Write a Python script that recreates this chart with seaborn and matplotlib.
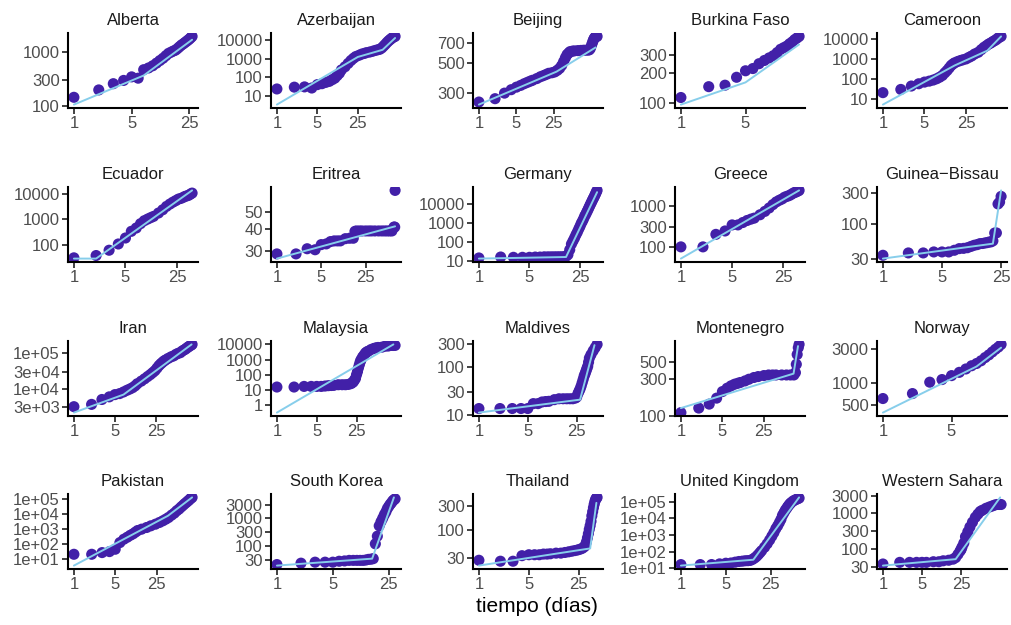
import numpy as np
import matplotlib
matplotlib.use("Agg")
import matplotlib.pyplot as plt
import seaborn as sns
from matplotlib.ticker import FixedLocator, NullLocator

# casos acumulados por día y la recta segmentada ajustada
alberta_day = list(range(1, 28))
alberta_cases = [146, 200, 261, 300, 349, 330, 474, 510, 560, 627, 700, 772, 860, 950,
                 1000, 1050, 1090, 1170, 1260, 1350, 1420, 1500, 1580, 1660, 1750, 1850, 1960]
alberta_fit_day = [1, 7, 27]
alberta_fit = [107, 370, 1700]

azerbaijan_day = [1, 2, 3, 4, 5, 6, 7, 8, 9, 10, 11, 12, 13, 15, 17, 19, 21, 23, 26, 29, 32, 35,
                  40, 45, 50, 55, 60, 65, 70, 75, 80, 85, 90, 95, 100, 105, 110]
azerbaijan_cases = [24, 30, 31, 27, 41, 46, 54, 61, 75, 91, 125, 167, 250, 370, 560, 800, 1050, 1300,
                    1510, 1750, 1900, 2100, 2270, 2500, 2770, 3000, 3200, 3800, 4800, 6000, 7500,
                    9000, 10500, 12000, 13500, 15000, 15600]
azerbaijan_fit_day = [1, 25, 67, 110]
azerbaijan_fit = [3.5, 1240, 3000, 12800]

beijing_day = [1, 2, 3, 4, 5, 6, 7, 8, 9, 10, 12, 14, 16, 18, 20, 23, 26, 29, 32, 35, 38, 41, 44, 47,
               50, 55, 60, 70, 80, 90, 100, 110, 115, 120, 125, 130, 135, 140, 145, 150, 155, 160]
beijing_cases = [256, 271, 298, 316, 330, 340, 350, 358, 365, 371, 382, 394, 402, 410, 418, 422, 428,
                 440, 455, 478, 510, 545, 575, 590, 605, 610, 613, 616, 618, 620, 620, 622, 625, 640,
                 670, 700, 730, 755, 770, 780, 785, 785]
beijing_fit_day = [1, 28, 150]
beijing_fit = [245, 430, 650]

burkina_day = list(range(1, 20))
burkina_cases = [113, 145, 150, 180, 209, 220, 246, 265, 281, 296, 318, 343, 356, 369, 389, 406, 428,
                 444, 461]
burkina_fit_day = [1, 5, 19]
burkina_fit = [96, 160, 383]

cameroon_day = [1, 2, 3, 4, 5, 6, 7, 8, 9, 10, 11, 12, 13, 14, 15, 16, 18, 20, 22, 25, 28, 31, 35,
                40, 45, 50, 55, 60, 65, 70, 75, 80, 85, 90, 97]
cameroon_cases = [20, 29, 43, 56, 68, 76, 86, 100, 120, 147, 200, 261, 350, 464, 550, 631, 736, 826,
                  900, 1000, 1200, 1400, 1780, 2150, 2930, 3830, 4640, 5620, 6310, 7360, 8250, 9260,
                  10800, 12100, 13600]
cameroon_fit_day = [1, 16, 57, 97]
cameroon_fit = [5, 464, 2610, 13600]

ecuador_day = [1, 2, 3, 4, 5, 6, 7, 8, 9, 10, 11, 12, 14, 16, 18, 20, 22, 24, 26, 28, 30, 32, 34,
               36, 38, 40]
ecuador_cases = [30, 37, 60, 106, 183, 336, 455, 676, 886, 1030, 1170, 1310, 1780, 2400, 3260, 4030,
                 4800, 5500, 6310, 6700, 7300, 8090, 8500, 9000, 10000, 10960]
ecuador_fit_day = [1, 2, 40]
ecuador_fit = [28, 28, 14000]

eritrea_day = [1, 2, 3, 4, 5, 6, 7, 8, 9, 10, 12, 14, 16, 17, 18, 20, 22, 25, 28, 31, 35, 40, 45,
               50, 55, 60, 65, 70, 72, 73]
eritrea_cases = [29, 29, 31, 30.6, 32.7, 33, 34, 34.3, 34.3, 34.3, 35.3, 35.5, 35.5, 38.8, 39, 39, 39,
                 39, 39, 39, 39, 39, 39, 39, 39, 39, 39, 41, 41, 65.8]
eritrea_fit_day = [1, 73]
eritrea_fit = [27.3, 41.4]

germany_day = list(range(1, 44))
germany_cases = [14.8, 16.6, 16, 16, 16, 16.5, 16.5, 17, 17, 17, 17, 17, 17, 17, 17, 18, 22, 40, 80,
                 118, 170, 250, 350, 500, 700, 1000, 1300, 1740, 2400, 3000, 3930, 5000, 6500, 8300,
                 10500, 13000, 16200, 20000, 24000, 30000, 36000, 45000, 54000]
germany_fit_day = [1, 16, 43]
germany_fit = [13.7, 16.6, 43600]

greece_day = [1, 2, 3, 4, 5, 6, 7, 8, 9, 10, 12, 14, 16, 18, 20, 22, 24, 26, 28, 30, 32, 34, 36,
              38, 40, 41]
greece_cases = [100, 100, 201, 243, 341, 341, 390, 436, 470, 498, 601, 726, 877, 1060, 1230, 1350,
                1450, 1600, 1680, 1750, 1870, 2000, 2100, 2170, 2300, 2340]
greece_fit_day = [1, 41]
greece_fit = [52, 2340]

guinea_day = list(range(1, 26))
guinea_cases = [33.7, 36.6, 36.6, 37.9, 37.9, 37.9, 40.2, 42.6, 43, 44, 46, 47.9, 49, 50.7, 51, 51.9,
                52.5, 53.7, 54, 56, 73.8, 74, 205, 219, 267]
guinea_fit_day = [1, 20, 25]
guinea_fit = [30, 50.7, 330]

iran_day = [1, 2, 3, 4, 5, 6, 7, 8, 9, 10, 11, 12, 14, 16, 18, 20, 22, 24, 26, 28, 30, 32, 34, 36,
            40, 45, 50, 55, 60, 65, 70, 75, 80, 85, 90, 95, 100, 103]
iran_cases = [3100, 3600, 4950, 5870, 6800, 7260, 8070, 9000, 9800, 10700, 12000, 13800, 16300, 19000,
              22000, 25000, 28500, 32300, 38000, 44500, 50000, 55000, 60000, 64000, 71200, 79000,
              84400, 93800, 100000, 104000, 116000, 124000, 132000, 144000, 153000, 163000, 172000,
              178000]
iran_fit_day = [1, 7, 101]
iran_fit = [2110, 6800, 178000]

malaysia_day = [1, 2, 3, 4, 5, 6, 7, 8, 9, 10, 12, 14, 16, 18, 20, 21, 22, 23, 24, 25, 26, 27, 28,
                29, 30, 32, 34, 36, 38, 40, 45, 50, 55, 60, 70, 80, 90, 100, 110, 119]
malaysia_cases = [15.5, 15.5, 17, 17, 17, 17, 18, 19, 19.5, 20, 22, 22, 22, 23, 26, 30, 34, 45, 57,
                  100, 160, 280, 450, 700, 980, 1500, 2000, 2750, 3200, 3550, 4600, 5400, 5960, 6300,
                  6600, 7700, 7800, 8500, 8500, 8600]
malaysia_fit_day = [1, 111]
malaysia_fit = [0.32, 10000]

maldives_day = [1, 2, 3, 4, 5, 6, 7, 8, 9, 10, 12, 14, 16, 18, 20, 22, 24, 25, 26, 27, 28, 29, 30,
                31, 32, 33, 34, 35, 36, 37, 38, 40, 43, 46, 49]
maldives_cases = [13.6, 13.6, 13.6, 13.6, 13.6, 17.2, 17.2, 18.6, 19, 19.2, 20.8, 21.7, 21.7, 21.7,
                  21.7, 21.7, 22.5, 23.5, 27.5, 31, 34.8, 40, 47, 55, 64.6, 72, 81.5, 92, 103, 125,
                  152, 178, 214, 250, 292]
maldives_fit_day = [1, 28, 45]
maldives_fit = [11.2, 20.8, 282]

montenegro_day = [1, 2, 3, 4, 5, 6, 7, 8, 9, 10, 12, 14, 17, 20, 25, 30, 35, 40, 50, 60, 70, 80,
                  85, 88, 91, 95, 98]
montenegro_cases = [110, 126, 142, 170, 207, 229, 246, 258, 265, 272, 285, 300, 316, 325, 335, 341,
                    341, 341, 341, 341, 341, 341, 366, 470, 632, 775, 855]
montenegro_fit_day = [1, 79, 94]
montenegro_fit = [126, 355, 813]

norway_day = list(range(1, 17))
norway_cases = [611, 716, 1030, 1120, 1270, 1410, 1570, 1740, 1870, 2040, 2260, 2460, 2700, 2940,
                3160, 3440]
norway_fit_day = [1, 9, 16]
norway_fit = [390, 1700, 3100]

pakistan_day = [1, 2, 3, 4, 5, 6, 7, 8, 9, 10, 11, 12, 14, 17, 20, 24, 28, 32, 36, 40, 45, 50, 55,
                60, 65, 70, 75, 80, 85, 90, 95, 100]
pakistan_cases = [20.5, 20.5, 26.6, 31, 44.5, 124, 208, 283, 380, 474, 620, 794, 977, 1260, 1630,
                  2100, 2730, 3530, 4570, 5900, 8460, 11500, 16500, 21400, 29100, 37600, 48600,
                  59800, 73500, 90200, 111000, 129000]
pakistan_fit_day = [1, 39, 100]
pakistan_fit = [3.6, 7640, 129000]

korea_day = list(range(1, 31))
korea_cases = [20.5, 23, 25, 25, 25, 27, 27.7, 29, 29, 29, 29, 29, 30, 31.6, 32, 33.5, 115, 218, 517,
               728, 970, 1300, 1630, 2170, 2600, 3080, 3500, 4100, 4500, 4870]
korea_fit_day = [1, 15.5, 29]
korea_fit = [18.8, 33.5, 5500]

thailand_day = [1, 2, 3, 4, 5, 6, 7, 8, 9, 10, 12, 14, 16, 18, 20, 22, 24, 26, 28, 30, 31, 32, 33,
                34, 35, 36, 37, 38, 39, 40, 41, 42, 43, 44, 45]
thailand_cases = [26.6, 25.5, 25.5, 32.6, 34, 34, 34, 35, 35, 35.5, 36.5, 36.5, 37.6, 38.7, 39.8,
                  40.9, 42, 43.4, 45.3, 48.7, 53, 60.5, 72, 86.6, 105, 124, 150, 191, 230, 274, 320,
                  365, 400, 420, 433]
thailand_fit_day = [1, 36, 44]
thailand_fit = [21, 45, 340]

uk_day = [1, 2, 3, 4, 5, 6, 7, 8, 9, 10, 11, 12, 13, 14, 15, 16, 17, 18, 20, 22, 24, 26, 28, 30,
          32, 34, 36, 38, 40, 42, 44, 46, 48, 50, 52, 56, 60, 65, 69]
uk_cases = [16.9, 16.9, 17, 18.6, 20.4, 21, 23.6, 25.9, 27, 28.6, 29, 30, 34.6, 41.8, 52, 67.4, 88,
            114, 184, 300, 500, 845, 1400, 2400, 3550, 5500, 8500, 14900, 21000, 30000, 38500,
            50000, 62300, 75000, 87000, 110000, 126000, 146000, 161000]
uk_fit_day = [1, 13.4, 69]
uk_fit = [14.7, 33, 178000]

sahara_day = [1, 2, 3, 4, 5, 6, 8, 10, 12, 15, 18, 20, 22, 24, 25, 26, 28, 30, 33, 36, 40, 45, 50,
              55, 60, 70, 80, 90, 100, 110, 120, 130]
sahara_cases = [36.9, 41, 41, 41, 41, 41, 42.7, 42.7, 45.4, 47, 50.4, 55.9, 68.7, 85, 93.8, 110, 142,
                215, 294, 401, 547, 748, 920, 1090, 1180, 1340, 1450, 1550, 1650, 1710, 1710, 1710]
sahara_fit_day = [1, 20, 125]
sahara_fit = [33.3, 50.4, 2700]

titles = ["Alberta", "Azerbaijan", "Beijing", "Burkina Faso", "Cameroon",
          "Ecuador", "Eritrea", "Germany", "Greece", "Guinea\u2212Bissau",
          "Iran", "Malaysia", "Maldives", "Montenegro", "Norway",
          "Pakistan", "South Korea", "Thailand", "United Kingdom", "Western Sahara"]

y_breaks = [[100, 300, 1000], [10, 100, 1000, 10000], [300, 500, 700], [100, 200, 300],
            [10, 100, 1000, 10000],
            [100, 1000, 10000], [30, 40, 50], [10, 100, 1000, 10000], [100, 300, 1000],
            [30, 100, 300],
            [3000, 10000, 30000, 100000], [1, 10, 100, 1000, 10000], [10, 30, 100, 300],
            [100, 300, 500], [500, 1000, 3000],
            [10, 100, 1000, 10000, 100000], [30, 100, 300, 1000, 3000], [30, 100, 300],
            [10, 100, 1000, 10000, 100000], [30, 100, 300, 1000, 3000]]
sci_panels = ["Iran", "Pakistan", "United Kingdom"]
x_breaks = [1, 5, 25]
x_breaks_short = [1, 5]

series = [
    (alberta_day, alberta_cases, alberta_fit_day, alberta_fit),
    (azerbaijan_day, azerbaijan_cases, azerbaijan_fit_day, azerbaijan_fit),
    (beijing_day, beijing_cases, beijing_fit_day, beijing_fit),
    (burkina_day, burkina_cases, burkina_fit_day, burkina_fit),
    (cameroon_day, cameroon_cases, cameroon_fit_day, cameroon_fit),
    (ecuador_day, ecuador_cases, ecuador_fit_day, ecuador_fit),
    (eritrea_day, eritrea_cases, eritrea_fit_day, eritrea_fit),
    (germany_day, germany_cases, germany_fit_day, germany_fit),
    (greece_day, greece_cases, greece_fit_day, greece_fit),
    (guinea_day, guinea_cases, guinea_fit_day, guinea_fit),
    (iran_day, iran_cases, iran_fit_day, iran_fit),
    (malaysia_day, malaysia_cases, malaysia_fit_day, malaysia_fit),
    (maldives_day, maldives_cases, maldives_fit_day, maldives_fit),
    (montenegro_day, montenegro_cases, montenegro_fit_day, montenegro_fit),
    (norway_day, norway_cases, norway_fit_day, norway_fit),
    (pakistan_day, pakistan_cases, pakistan_fit_day, pakistan_fit),
    (korea_day, korea_cases, korea_fit_day, korea_fit),
    (thailand_day, thailand_cases, thailand_fit_day, thailand_fit),
    (uk_day, uk_cases, uk_fit_day, uk_fit),
    (sahara_day, sahara_cases, sahara_fit_day, sahara_fit),
]

sns.set_style("ticks")
plt.rcParams["font.family"] = ["Liberation Sans", "DejaVu Sans"]

POINT = "#4220A8"
LINE = "#87CEEB"
W, H = 1011, 625
col_left = [68, 271, 473, 675, 877]
row_top = [33, 187, 341, 494]
pw, ph = 130, 75

fig = plt.figure(figsize=(W / 100, H / 100), dpi=100)


def padded(lo, hi):
    # ggplot-style 5% expansion in log space
    a, b = np.log10(lo), np.log10(hi)
    e = (b - a) * 0.05
    return 10 ** (a - e), 10 ** (b + e)


for i, (title, (d, c, fd, fv)) in enumerate(zip(titles, series)):
    r, k = divmod(i, 5)
    ax = fig.add_axes([col_left[k] / W, 1 - (row_top[r] + ph) / H, pw / W, ph / H])
    ax.set_xscale("log")
    ax.set_yscale("log")
    sns.scatterplot(x=d, y=c, ax=ax, color=POINT, s=64, edgecolor="none", linewidth=0, zorder=2)
    sns.lineplot(x=fd, y=fv, ax=ax, color=LINE, linewidth=1.4, estimator=None, zorder=3)

    ax.set_xlim(padded(1, max(max(d), max(fd))))
    ax.set_ylim(padded(min(min(c), min(fv)), max(max(c), max(fv))))

    xb = x_breaks if max(d) >= 25 else x_breaks_short
    ax.xaxis.set_major_locator(FixedLocator(xb))
    ax.xaxis.set_minor_locator(NullLocator())
    ax.set_xticklabels([str(v) for v in xb])
    yb = y_breaks[i]
    ax.yaxis.set_major_locator(FixedLocator(yb))
    ax.yaxis.set_minor_locator(NullLocator())
    if title in sci_panels:
        ax.set_yticklabels([f"{v:.0e}" for v in yb])
    else:
        ax.set_yticklabels([str(v) for v in yb])

    sns.despine(ax=ax)
    for s in ["left", "bottom"]:
        ax.spines[s].set_linewidth(1.5)
        ax.spines[s].set_color("black")
    ax.tick_params(axis="both", length=4, width=1.3, color="#333333",
                   labelsize=12, labelcolor="#4D4D4D", pad=2)
    ax.set_xlabel("")
    ax.set_ylabel("")
    ax.set_title(title, fontsize=12, color="#1A1A1A", pad=6)
    ax.set_facecolor("white")

fig.text(537 / W, 1 - 607 / H, "tiempo (días)", ha="center", va="center",
         fontsize=15, color="black")

fig.savefig("out.png", dpi=100, facecolor="white")
